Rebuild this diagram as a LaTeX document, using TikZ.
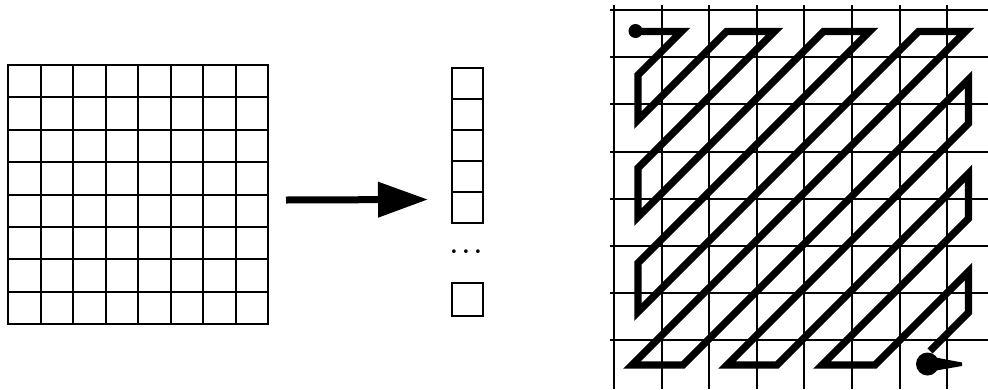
\documentclass[tikz,border=0pt]{standalone}
\usetikzlibrary{arrows.meta}
\begin{document}
\begin{tikzpicture}[x=1pt,y=-1pt,
  thingrid/.style={line width=2pt, line cap=butt},
  cellbox/.style={line width=2pt, line cap=rect},
  zig/.style={line width=7.3pt, line join=miter, line cap=butt},
  bigarrow/.style={line width=7pt, -{Triangle[length=50pt,width=34pt]}}]
\useasboundingbox (0,0) rectangle (988,389);
\fill[white] (0,0) rectangle (988,389);

% left 8x8 block
\foreach \p in {8,41,73,106,138,171,203,236,268}
  \draw[cellbox] (\p,65) -- (\p,324);
\foreach \p in {65,97,130,162,195,227,259,292,324}
  \draw[cellbox] (8,\p) -- (268,\p);

% arrow
\coordinate (arrS) at (286,200);
\coordinate (arrE) at (428,199.5);
\draw[bigarrow] (arrS) -- (arrE);

% column of coefficients
\draw[cellbox] (452,68) rectangle (483,223);
\foreach \p in {99,130,161,192} \draw[cellbox] (452,\p) -- (483,\p);
\node[inner sep=0pt, scale=3.5] (dots) at (466,251.7) {.\kern0.65pt.\kern0.65pt.};
\draw[cellbox] (452,283) rectangle (483,316);

% right grid
\foreach \p in {614,662,709,757,804,852,900,947,995}
  \draw[thingrid] (\p,5) -- (\p,389);
\foreach \p in {10,57,104,152,199,246,293,340}
  \draw[thingrid] (610,\p) -- (988,\p);

% zigzag scan
\draw[zig] (636,31.5) -- (681.5,31.5) -- (638,75) -- (638,120) -- (726.5,31.5)
  -- (774.5,31.5) -- (638,168) -- (638,217) -- (823.5,31.5) -- (869.5,31.5)
  -- (638,263) -- (638,312) -- (918.5,31.5) -- (965.5,31.5) -- (632,365)
  -- (683,365) -- (968.5,79.5) -- (968.5,123.5) -- (727,365) -- (777,365)
  -- (968.5,173.5) -- (968.5,218.5) -- (822,365) -- (875,365)
  -- (968.5,271.5) -- (968.5,312.5) -- (930,351);
\fill (635.5,31) circle[radius=7pt];
\fill (927.5,364) circle[radius=11.5pt];
\fill (933,357) -- (962,362.5) -- (962,366) -- (933,371) -- cycle;
\end{tikzpicture}
\end{document}
